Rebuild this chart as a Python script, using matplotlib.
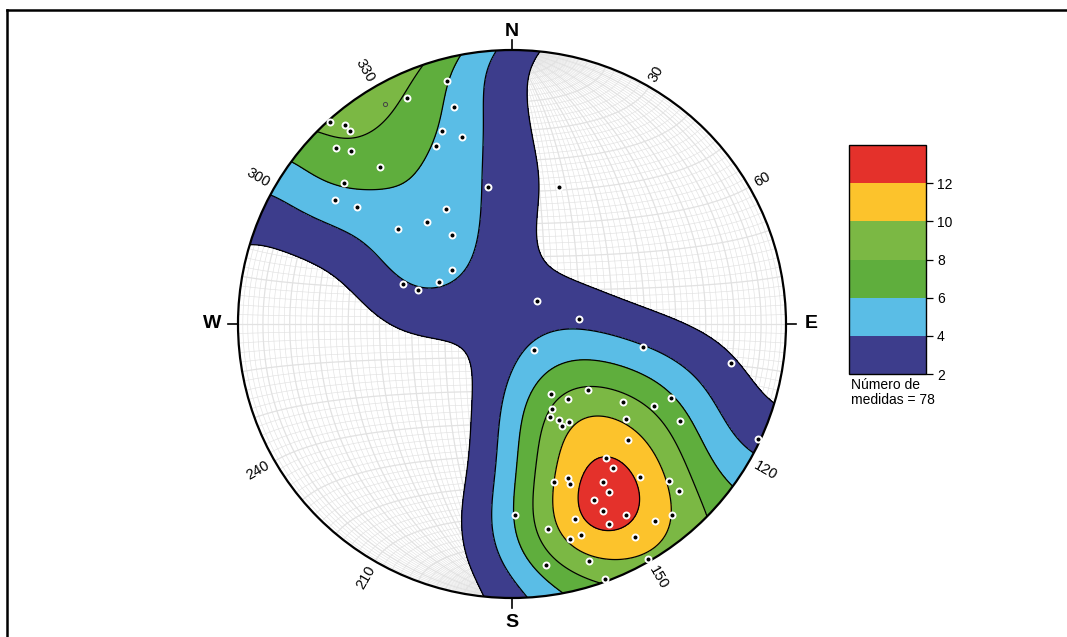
import numpy as np
import matplotlib
matplotlib.use("Agg")
import matplotlib.pyplot as plt
from matplotlib.patches import Circle
from matplotlib.collections import LineCollection

plt.rcParams['font.family'] = ['Liberation Sans', 'DejaVu Sans']

# poles (trend / plunge, degrees)
trend = [345, 335, 345, 318, 320, 320, 340, 345, 337, 315, 317, 320, 350, 310, 305, 307, 330, 320,
         310, 326, 312, 290, 290, 300, 47, 19, 86, 140, 100, 100, 151, 143, 131, 155, 158, 154,
         154, 150, 125, 120, 115, 130, 120, 135, 115, 145, 145, 140, 165, 160, 160, 150, 150, 135,
         135, 155, 154, 149, 154, 179, 162, 144, 140, 170, 162, 165, 150, 172, 162, 150, 160]
plunge = [9, 10, 19, 1, 6, 9, 26, 30, 30, 10, 15, 26, 48, 21, 22, 30, 50, 50,
          45, 58, 66, 55, 60, 65, 80, 46, 70, 80, 50, 20, 66, 62, 60, 62, 60, 58,
          56, 56, 49, 40, 36, 45, 30, 40, 1, 40, 36, 28, 40, 40, 38, 34, 30, 20,
          15, 30, 25, 20, 20, 31, 26, 12, 10, 25, 20, 20, 11, 12, 10, 1, 1]
# one pole drawn as small open circle
extra_trend = [330]
extra_plunge = [8]
n_total = 78

levels = [2, 4, 6, 8, 10, 12, 14]
colors = ['#3d3d8c', '#5abde6', '#5fae3d', '#7bb844', '#fcc32c', '#e4312b']
cb_ticks = [2, 4, 6, 8, 10, 12]
az_labels = [30, 60, 120, 150, 210, 240, 300, 330]
kappa = 14       # smoothing of the density
peak = 12.9      # highest count (red class, 12-14)


def vec(tr, pl):
    t = np.radians(tr); p = np.radians(pl)
    return np.column_stack([np.cos(p)*np.sin(t), np.cos(p)*np.cos(t), np.sin(p)])


def proj(v):
    # lower hemisphere equal-area (Schmidt)
    s = np.sqrt(1 + v[..., 2])
    return v[..., 0]/s, v[..., 1]/s


V = vec(np.array(trend, float), np.array(plunge, float))
px_, py_ = proj(V)
ex, ey = proj(vec(np.array(extra_trend, float), np.array(extra_plunge, float)))

# density on a grid (axial data, exponential kernel)
gx, gy = np.meshgrid(np.linspace(-1.02, 1.02, 400), np.linspace(-1.02, 1.02, 400))
r2 = gx**2 + gy**2
gz = 1 - r2
sc = np.sqrt(np.clip(1 + gz, 0, None))
G = np.stack([gx*sc, gy*sc, gz], axis=-1)
D = np.exp(kappa*(np.abs(G @ V.T) - 1)).sum(-1)
D = D * peak / D[r2 <= 1].max()
D = np.minimum(D, 13.95)

fig = plt.figure(figsize=(10.67, 6.37), dpi=100)
ax = fig.add_axes([212/1067, 13/637, 600/1067, 600/637])
lim = 300/274.
ax.set_xlim(-lim, lim); ax.set_ylim(-lim, lim)
ax.set_aspect('equal')
ax.axis('off')

# net grid
lines = []; widths = []
u = np.radians(np.linspace(-90, 90, 181))
for d in range(-88, 90, 2):
    a = np.radians(d)
    m = np.stack([np.cos(u)*np.sin(a), np.sin(u), np.cos(u)*np.cos(a)], -1)
    sm = np.stack([np.cos(a)*np.sin(u), np.full_like(u, np.sin(a)), np.cos(a)*np.cos(u)], -1)
    for arr in (m, sm):
        xx, yy = proj(arr)
        lines.append(np.column_stack([xx, yy]))
        widths.append(0.9 if d % 10 == 0 else 0.45)
ax.add_collection(LineCollection(lines, colors='#e2e2e2', linewidths=widths, zorder=1))

clip = Circle((0, 0), 1, transform=ax.transData)
cf = ax.contourf(gx, gy, D, levels=levels, colors=colors, zorder=2)
cf.set_clip_path(clip)
cl = ax.contour(gx, gy, D, levels=levels[:-1], colors='k', linewidths=0.9, zorder=3)
cl.set_clip_path(clip)

ax.add_patch(Circle((0, 0), 1, fill=False, lw=1.6, color='k', zorder=5))

ax.plot(px_, py_, 'o', mfc='k', mec='white', ms=4.3, mew=1.4, zorder=6)
ax.plot(ex, ey, 'o', mfc='none', mec='#444444', ms=3, mew=0.7, zorder=6)

# cardinal ticks and letters
for lab, (dx, dy), pos in [('N', (0, 1), (0, 1.066)), ('S', (0, -1), (0, -1.091)),
                           ('E', (1, 0), (1.091, 0)), ('W', (-1, 0), (-1.095, 0))]:
    ax.plot([dx, dx*1.035], [dy, dy*1.035], color='k', lw=1.2, zorder=5)
    ax.text(pos[0], pos[1], lab, ha='center', va='center', fontsize=14, fontweight='bold')

for az in az_labels:
    a = np.radians(az)
    x0, y0 = 1.025*np.sin(a), 1.025*np.cos(a)
    if az < 180:
        ax.text(x0, y0, str(az), rotation=90-az, rotation_mode='anchor',
                ha='left', va='center', fontsize=10.5)
    else:
        ax.text(x0, y0, str(az), rotation=270-az, rotation_mode='anchor',
                ha='right', va='center', fontsize=10.5)

cax = fig.add_axes([849/1067, 263/637, 77/1067, 229/637])
cb = fig.colorbar(cf, cax=cax, ticks=cb_ticks)
cb.outline.set_linewidth(1)
cax.tick_params(length=5, width=0.9, labelsize=10, direction='out', pad=3)
fig.text(851/1067, 1 - 378/637, "Número de\nmedidas = %d" % n_total, ha='left', va='top',
         fontsize=10, linespacing=1.05)

fig.add_artist(plt.Line2D([7/1067, 7/1067], [0, 1 - 10/637], color='k', lw=1.8))
fig.add_artist(plt.Line2D([7/1067, 1], [1 - 10/637, 1 - 10/637], color='k', lw=1.8))

fig.savefig("out.png", dpi=100)
